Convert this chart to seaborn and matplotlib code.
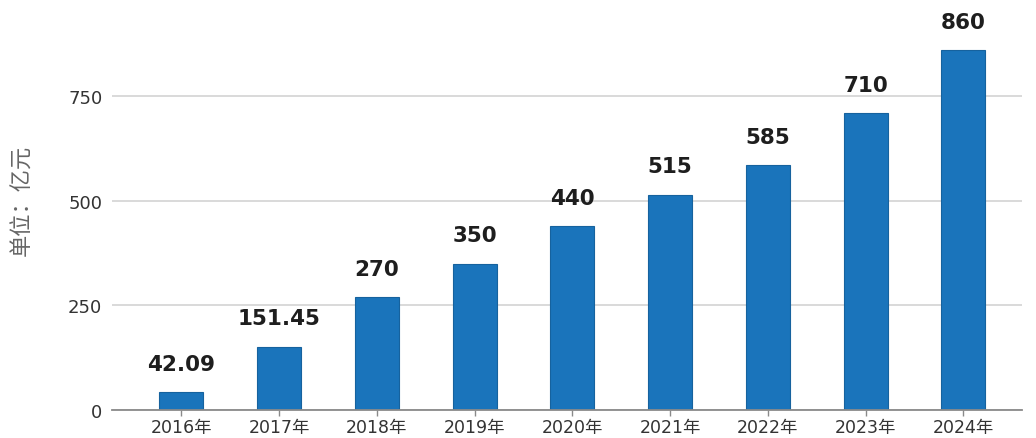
import matplotlib
matplotlib.use("Agg")
import matplotlib.pyplot as plt
import seaborn as sns
import pandas as pd

years = ["2016年", "2017年", "2018年", "2019年", "2020年", "2021年", "2022年", "2023年", "2024年"]
values = [42.09, 151.45, 270, 350, 440, 515, 585, 710, 860]
value_labels = ["42.09", "151.45", "270", "350", "440", "515", "585", "710", "860"]
y_ticks = [0, 250, 500, 750]
y_label = "单位：亿元"

sns.set_theme(style="white")
plt.rcParams['font.family'] = ['DejaVu Sans', 'Noto Sans CJK SC']

df = pd.DataFrame({"year": years, "value": values})

fig = plt.figure(figsize=(10.36, 4.39), dpi=100)
ax = fig.add_axes([112/1036, 28/439, (1022-112)/1036, 1 - 28/439])

sns.barplot(data=df, x="year", y="value", color="#1a74bb", width=0.45,
            saturation=1, ax=ax, edgecolor="#16629e", linewidth=0.8, zorder=3)

for i, (v, lab) in enumerate(zip(values, value_labels)):
    ax.annotate(lab, xy=(i, v), xytext=(0, 16), textcoords="offset points",
                ha="center", va="baseline", fontsize=15.5, fontweight="bold",
                color="#1e1e1e")

ax.set_xlim(-0.71, 8.6)
ax.set_ylim(0, 983)
ax.set_yticks(y_ticks)
ax.set_yticklabels([str(t) for t in y_ticks])
ax.yaxis.grid(True, color="#cfcfcf", linewidth=1.1, zorder=0)
ax.xaxis.grid(False)

for s in ["top", "right", "left"]:
    ax.spines[s].set_visible(False)
ax.spines["bottom"].set_color("#8a8a8a")
ax.spines["bottom"].set_linewidth(1.3)
ax.spines["bottom"].set_zorder(4)

ax.tick_params(axis="y", length=0, pad=7, labelsize=13, labelcolor="#333333")
ax.tick_params(axis="x", bottom=True, length=4, width=1, color="#8a8a8a",
               pad=1.5, labelsize=12.5, labelcolor="#333333")

ax.set_xlabel("")
ax.set_ylabel(y_label, fontsize=16, color="#666666")
ax.yaxis.set_label_coords(-0.087, 0.513)

fig.savefig("out.png", dpi=100)
